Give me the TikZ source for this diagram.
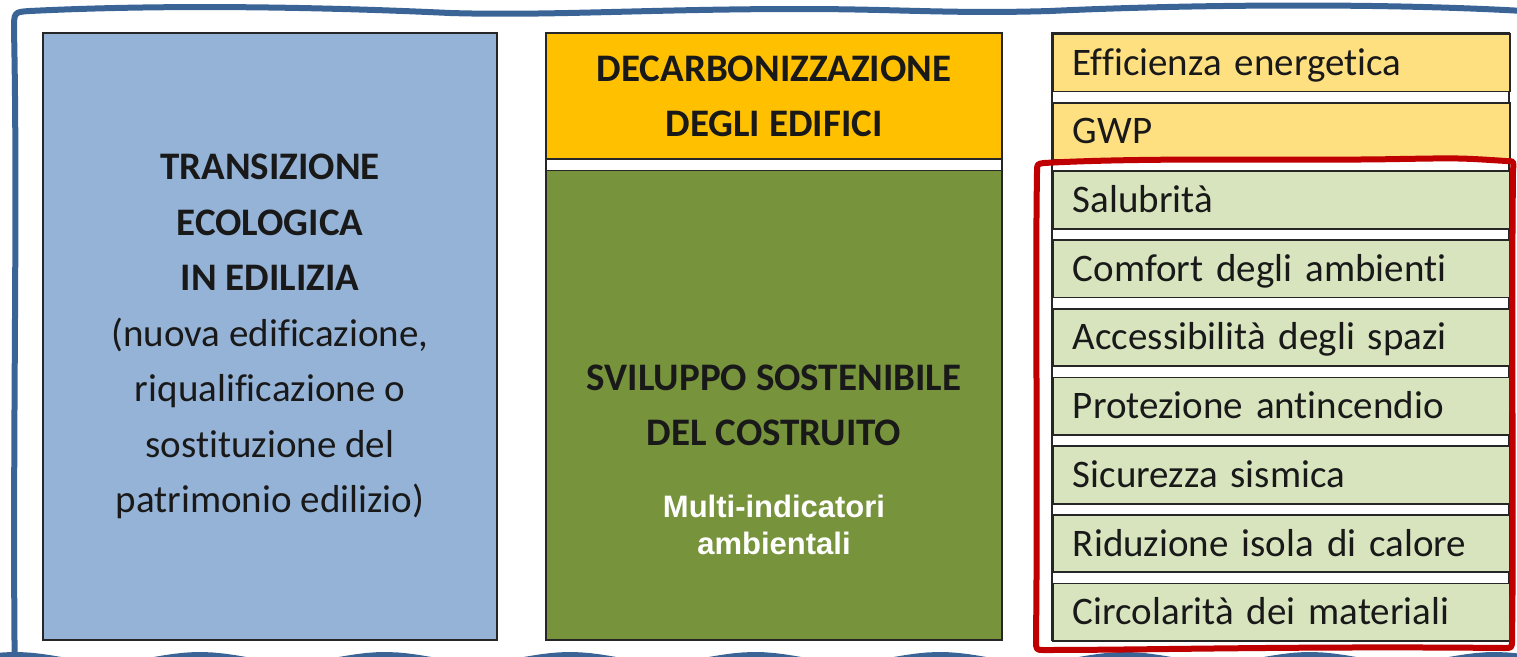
\documentclass[tikz,border=0pt]{standalone}
\usepackage{fontspec}
\setmainfont{Carlito}[Ligatures=NoCommon]
\newfontfamily\arialfont{Liberation Sans}
\definecolor{boxblue}{HTML}{95B3D7}
\definecolor{boxorange}{HTML}{FFC000}
\definecolor{boxgreen}{HTML}{77933C}
\definecolor{roworange}{HTML}{FFE081}
\definecolor{rowgreen}{HTML}{D7E4BD}
\definecolor{framblue}{HTML}{3A6496}
\definecolor{framred}{HTML}{C00000}

\begin{document}
\begin{tikzpicture}[x=1pt, y=-1pt,
  colbox/.style={draw=black!85, line width=1.8pt, inner sep=0pt, align=center, text=black!90, font=\fontsize{39}{55.5}\selectfont},
  cell/.style={draw=black!85, line width=1.8pt, anchor=north west, minimum height=57.5pt, text width=417pt, inner xsep=20pt, inner ysep=0pt, align=left, text height=29pt, text depth=4pt, text=black!90, font=\fontsize{39}{47}\selectfont},
  subtag/.style={inner sep=0pt, align=center, text=white, font=\arialfont\bfseries\fontsize{31}{37}\selectfont},
  handframe/.style={line width=6pt, line cap=round, line join=round}]
\useasboundingbox (0,0) rectangle (1517,656);
\clip (0,0) rectangle (1517,656);

\node[colbox, fill=boxblue, minimum width=454pt, minimum height=607pt] (C1N1) at (270,336.5) {\textbf{TRANSIZIONE}\\\textbf{ECOLOGICA}\\\textbf{IN EDILIZIA}\\(nuova edificazione,\\riqualificazione o\\sostituzione del\\patrimonio edilizio)};

\node[colbox, fill=white, minimum width=456pt, minimum height=607pt] (C2) at (774,336.5) {};
\node[colbox, fill=boxorange, minimum width=456pt, minimum height=126.2pt] (C2N1) at (774,96.1) {\textbf{DECARBONIZZAZIONE}\\\textbf{DEGLI EDIFICI}};
\node[colbox, fill=boxgreen, minimum width=456pt, minimum height=469.6pt] (C2N2) at (774,405.2) {\textbf{SVILUPPO SOSTENIBILE}\\\textbf{DEL COSTRUITO}};
\node[subtag] (C2N3) at (774,525) {Multi-indicatori\\ambientali};

\node[colbox, fill=white, minimum width=457pt, minimum height=607pt] (C3) at (1280.5,336.5) {};
\node[cell, fill=roworange] (C3N1) at (1052,33) {Efficienza energetica};
\node[cell, fill=roworange] (C3N2) at (1052,101.7) {GWP};
\node[cell, fill=rowgreen] (C3N3) at (1052,170.4) {Salubrità};
\node[cell, fill=rowgreen] (C3N4) at (1052,239.1) {Comfort degli ambienti};
\node[cell, fill=rowgreen] (C3N5) at (1052,307.8) {Accessibilità degli spazi};
\node[cell, fill=rowgreen] (C3N6) at (1052,376.5) {Protezione antincendio};
\node[cell, fill=rowgreen] (C3N7) at (1052,445.2) {Sicurezza sismica};
\node[cell, fill=rowgreen] (C3N8) at (1052,513.9) {Riduzione isola di calore};
\node[cell, fill=rowgreen] (C3N9) at (1052,582.6) {Circolarità dei materiali};

\draw[handframe, framblue] (15,690) .. controls (12,450) and (18,220) .. (14,30) .. controls (14,12) .. (30,11) .. controls (150,5) and (300,6) .. (450,13) .. controls (550,16) and (650,9) .. (800,9) .. controls (900,9) and (950,14) .. (1050,11) .. controls (1200,4) and (1400,3) .. (1540,12);
\draw[handframe, framblue] plot[domain=0:1517, samples=150] (\x, {660 - 5*cos((\x-200)*1.946)});
\draw[handframe, framred] (1044,163) .. controls (1150,157) and (1300,161) .. (1400,159) .. controls (1460,158) .. (1506,161) .. controls (1514,161) .. (1513,170) .. controls (1511,350) and (1514,500) .. (1512,640) .. controls (1512,648) .. (1504,648) .. controls (1300,646) and (1150,650) .. (1044,650) .. controls (1036,650) .. (1036,640) .. controls (1038,450) and (1035,300) .. (1037,172) .. controls (1037,164) .. (1044,163) -- cycle;
\end{tikzpicture}
\end{document}
